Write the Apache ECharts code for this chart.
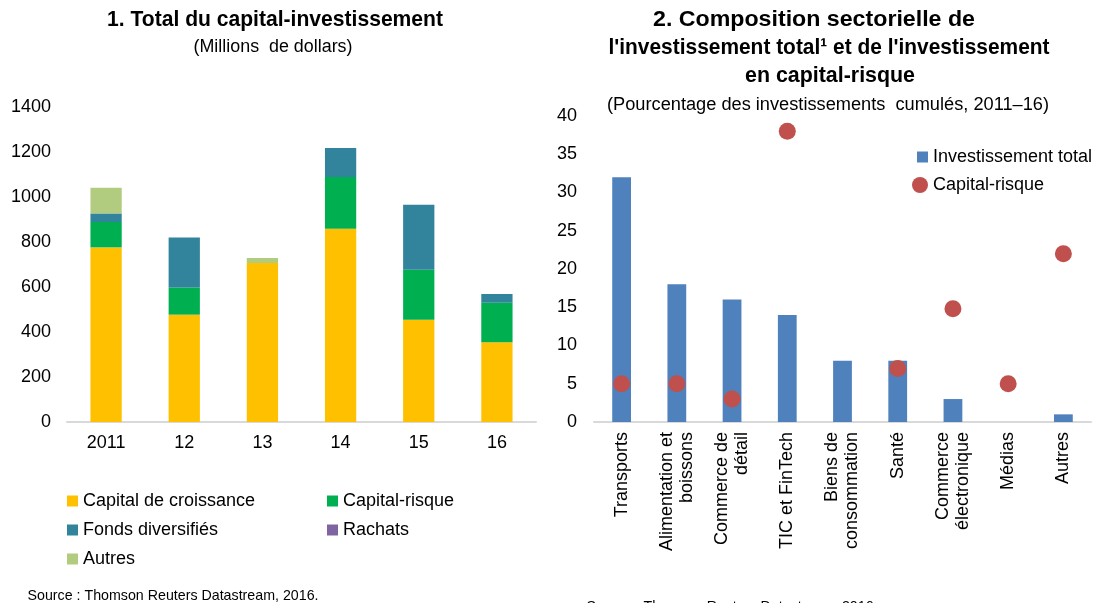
<!DOCTYPE html>
<html>
<head>
<meta charset="utf-8">
<script src="https://cdn.jsdelivr.net/npm/echarts@6/dist/echarts.min.js"></script>
<style>
  html, body { margin: 0; padding: 0; background: #fff; }
  #chart { width: 1094px; height: 603px; }
</style>
</head>
<body>
<div id="chart"></div>
<script>
// Panel 1: private equity totals by type (millions of dollars)
const years = ['2011', '12', '13', '14', '15', '16'];
const capitalCroissance = [776, 477, 707, 859, 455, 354];
const capitalRisque = [113, 121, null, 230, 222, 176];
const fondsDiversifies = [38, 222, null, 129, 289, 39];
const rachats = [null, null, null, null, null, null];
const autres = [114, null, 22, null, null, null];
const leftTicks = { min: 0, max: 1400, interval: 200 };

// Panel 2: sector composition (% of cumulative investment, 2011–16)
const sectors = ['Transports', 'Alimentation et\nboissons', 'Commerce de\ndétail', 'TIC et FinTech',
  'Biens de\nconsommation', 'Santé', 'Commerce\nélectronique', 'Médias', 'Autres'];
const investissementTotal = [32, 18, 16, 14, 8, 8, 3, 0, 1];
const capitalRisqueSect = [5, 5, 3, 38, null, 7, 14.8, 5, 22];
const rightTicks = { min: 0, max: 40, interval: 5 };

const sans = "'Liberation Sans', Arial, sans-serif";
const axisGray = '#D9D9D9';

// Condensed headings: regular sans squeezed horizontally to a given width
const measureCtx = document.createElement('canvas').getContext('2d');
function narrowText(text, cx, cy, size, bold, width) {
  const font = (bold ? 'bold ' : '') + size + 'px ' + sans;
  measureCtx.font = font;
  const w = measureCtx.measureText(text).width;
  return {
    type: 'text', x: cx, y: cy, scaleX: width / w, scaleY: 1, silent: true,
    style: { text: text, font: font, fill: '#000', textAlign: 'center', textVerticalAlign: 'middle' }
  };
}

const chart = echarts.init(document.getElementById('chart'), null, { renderer: 'canvas' });
const legendText = { fontFamily: sans, fontSize: 18, color: '#000' };

chart.setOption({
  animation: false,
  backgroundColor: '#fff',
  graphic: [
    narrowText('1. Total du capital-investissement', 275, 20, 22, true, 336),
    narrowText('(Millions  de dollars)', 273, 47, 18, false, 159),
    narrowText('2. Composition sectorielle de', 814, 20, 22, true, 322),
    narrowText("l'investissement total\u00b9 et de l'investissement", 829, 48, 22, true, 441),
    narrowText('en capital-risque', 830, 76, 22, true, 170),
    narrowText('(Pourcentage des investissements  cumulés, 2011\u201316)', 828, 105, 18, false, 442),
    narrowText('Source : Thomson Reuters Datastream, 2016.', 173, 596, 15, false, 291),
    narrowText('Source : Thomson Reuters Datastream, 2016.', 732, 607, 15, false, 291)
  ],
  legend: [
    { left: 67, top: 492, orient: 'vertical', padding: 0, itemGap: 11, itemWidth: 11, itemHeight: 11,
      icon: 'rect', textStyle: legendText,
      data: ['Capital de croissance', 'Fonds diversifiés', 'Autres'] },
    { left: 327, top: 492, orient: 'vertical', padding: 0, itemGap: 11, itemWidth: 11, itemHeight: 11,
      icon: 'rect', textStyle: legendText,
      data: ['Capital-risque', 'Rachats'] },
    { left: 917, top: 148, padding: 0, itemWidth: 11, itemHeight: 11, icon: 'rect',
      textStyle: legendText, data: ['Investissement total'] },
    { left: 912, top: 176, padding: 0, itemWidth: 16, itemHeight: 16, icon: 'circle',
      textStyle: legendText, data: ['Capital-risque '] }
  ],
  grid: [
    { left: 67, right: 558, top: 107, bottom: 181 },
    { left: 594, right: 3, top: 116, bottom: 181 }
  ],
  xAxis: [
    { type: 'category', gridIndex: 0, data: years,
      axisLine: { lineStyle: { color: axisGray, width: 2 } }, axisTick: { show: false },
      axisLabel: { fontFamily: sans, fontSize: 18, color: '#000', margin: 12 } },
    { type: 'category', gridIndex: 1, data: sectors,
      axisLine: { lineStyle: { color: axisGray, width: 2 } }, axisTick: { show: false },
      axisLabel: { fontFamily: sans, fontSize: 18, color: '#000', margin: 10, rotate: 90,
        lineHeight: 20, interval: 0 } }
  ],
  yAxis: [
    { type: 'value', gridIndex: 0, min: leftTicks.min, max: leftTicks.max, interval: leftTicks.interval,
      splitLine: { show: false }, axisLine: { show: false }, axisTick: { show: false },
      axisLabel: { fontFamily: sans, fontSize: 18, color: '#000', margin: 16, formatter: v => String(v) } },
    { type: 'value', gridIndex: 1, min: rightTicks.min, max: rightTicks.max, interval: rightTicks.interval,
      splitLine: { show: false }, axisLine: { show: false }, axisTick: { show: false },
      axisLabel: { fontFamily: sans, fontSize: 18, color: '#000', margin: 17, formatter: v => String(v) } }
  ],
  series: [
    { name: 'Capital de croissance', type: 'bar', stack: 'pe', xAxisIndex: 0, yAxisIndex: 0,
      barWidth: '40%', data: capitalCroissance, itemStyle: { color: '#FFC000' } },
    { name: 'Capital-risque', type: 'bar', stack: 'pe', xAxisIndex: 0, yAxisIndex: 0,
      data: capitalRisque, itemStyle: { color: '#00B050' } },
    { name: 'Fonds diversifiés', type: 'bar', stack: 'pe', xAxisIndex: 0, yAxisIndex: 0,
      data: fondsDiversifies, itemStyle: { color: '#31849B' } },
    { name: 'Rachats', type: 'bar', stack: 'pe', xAxisIndex: 0, yAxisIndex: 0,
      data: rachats, itemStyle: { color: '#8064A2' } },
    { name: 'Autres', type: 'bar', stack: 'pe', xAxisIndex: 0, yAxisIndex: 0,
      data: autres, itemStyle: { color: '#B1CC7E' } },
    { name: 'Investissement total', type: 'bar', xAxisIndex: 1, yAxisIndex: 1,
      barWidth: '34%', data: investissementTotal, itemStyle: { color: '#4F81BD' } },
    { name: 'Capital-risque ', type: 'scatter', xAxisIndex: 1, yAxisIndex: 1,
      symbolSize: 17, data: capitalRisqueSect, itemStyle: { color: '#C0504D', opacity: 1 } }
  ]
});
</script>
</body>
</html>
